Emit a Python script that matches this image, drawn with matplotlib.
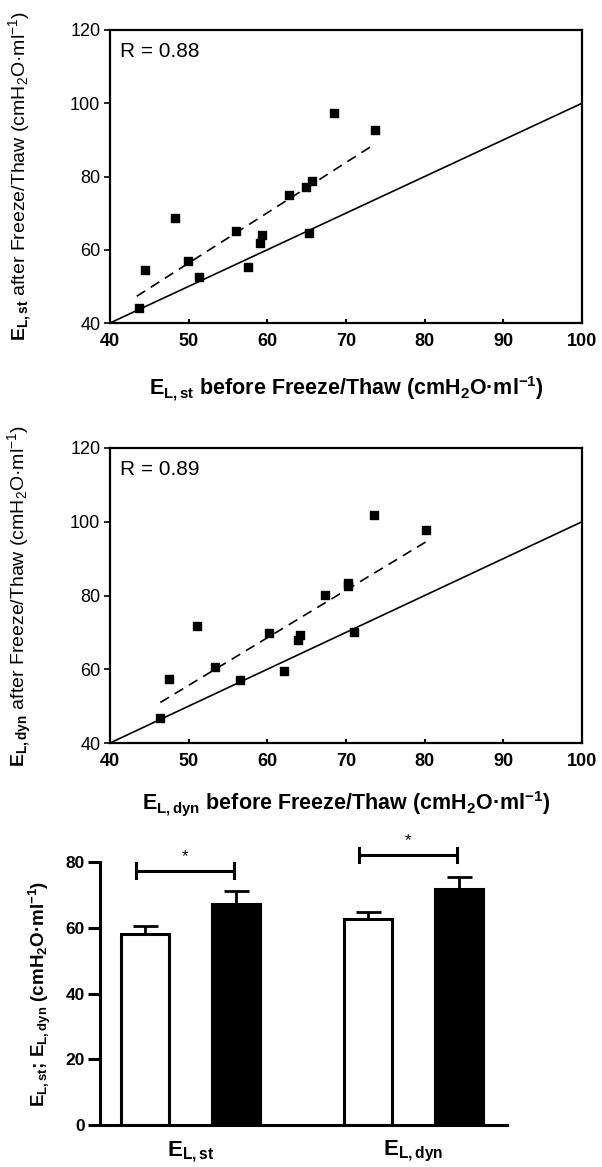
import numpy as np
import matplotlib
matplotlib.use("Agg")
import matplotlib.pyplot as plt

plt.rcParams['font.family'] = ['Liberation Sans', 'DejaVu Sans']
plt.rcParams['mathtext.fontset'] = 'custom'
plt.rcParams['mathtext.rm'] = 'Liberation Sans'
plt.rcParams['mathtext.bf'] = 'Liberation Sans:bold'
plt.rcParams['mathtext.it'] = 'Liberation Sans:italic'

# ---- data: static elastance ----
st_before = [43.7, 44.5, 48.2, 49.9, 51.3, 56.0, 57.6, 59.1, 59.3, 62.7, 64.9, 65.3, 65.7, 68.5, 73.7]
st_after = [44.1, 54.4, 68.6, 56.9, 52.5, 65.2, 55.3, 61.8, 64.1, 75.0, 77.1, 64.5, 78.9, 97.3, 92.7]
st_R = "R = 0.88"
st_fit_x = [43.4, 73.7]
st_fit_y = [47.3, 88.9]

# ---- data: dynamic elastance ----
dyn_before = [46.4, 47.5, 51.0, 53.3, 56.5, 60.2, 62.1, 63.9, 64.1, 67.3, 70.2, 70.2, 71.0, 73.6, 80.2]
dyn_after = [46.9, 57.3, 71.7, 60.6, 57.2, 69.7, 59.6, 67.8, 69.3, 80.2, 83.5, 82.7, 70.0, 101.8, 97.8]
dyn_R = "R = 0.89"
dyn_fit_x = [46.4, 80.2]
dyn_fit_y = [51.0, 94.6]

identity = [40, 100]
scatter_xticks = [40, 50, 60, 70, 80, 90, 100]
scatter_yticks = [40, 60, 80, 100, 120]

# ---- data: bars ----
bar_groups = [r"$\mathbf{E_{L,st}}$", r"$\mathbf{E_{L,dyn}}$"]
before_means = [58.1, 62.7]
before_err = [2.3, 2.2]
after_means = [67.3, 71.8]
after_err = [3.8, 3.6]
bar_yticks = [0, 20, 40, 60, 80]

fig = plt.figure(figsize=(6.02, 11.67), dpi=100)
W, H = 602, 1167

def ax_px(l, t, r, b):
    return fig.add_axes([l / W, 1 - b / H, (r - l) / W, (b - t) / H])

def scatter_panel(ax, xb, ya, fx, fy, rtxt, xlab, ylab):
    ax.plot(identity, identity, color='black', lw=1.2)
    ax.plot(fx, fy, color='black', lw=1.2, ls=(0, (6, 4)))
    ax.scatter(xb, ya, marker='s', s=32, color='black', zorder=3)
    ax.set_xlim(40, 100)
    ax.set_ylim(40, 120)
    ax.set_xticks(scatter_xticks)
    ax.set_yticks(scatter_yticks)
    for s in ax.spines.values():
        s.set_linewidth(1.6)
    ax.tick_params(axis='y', direction='out', length=4, width=1.2, labelsize=13, pad=3)
    ax.tick_params(axis='x', direction='in', length=3, width=1.5, labelsize=13, pad=7)
    for lab in ax.get_xticklabels():
        lab.set_fontweight('bold')
    ax.text(0.022, 0.96, rtxt, transform=ax.transAxes, ha='left', va='top', fontsize=15)
    ax.set_xlabel(xlab, fontsize=15.5, fontweight='bold')
    ax.set_ylabel(ylab, fontsize=14)
    ax.yaxis.set_label_coords(-0.16, 0.5)

ax1 = ax_px(110, 30, 582, 323)
scatter_panel(ax1, st_before, st_after, st_fit_x, st_fit_y, st_R,
              r"$\mathbf{E_{L,st}}$ before Freeze/Thaw (cmH$_\mathbf{2}$O·ml$^\mathbf{-1}$)",
              r"$\mathbf{E_{L,st}}$ after Freeze/Thaw (cmH$_2$O·ml$^{-1}$)")
ax1.xaxis.set_label_coords(0.5, -0.175)

ax2 = ax_px(110, 448, 582, 743)
scatter_panel(ax2, dyn_before, dyn_after, dyn_fit_x, dyn_fit_y, dyn_R,
              r"$\mathbf{E_{L,dyn}}$ before Freeze/Thaw (cmH$_\mathbf{2}$O·ml$^\mathbf{-1}$)",
              r"$\mathbf{E_{L,dyn}}$ after Freeze/Thaw (cmH$_2$O·ml$^{-1}$)")
ax2.xaxis.set_label_coords(0.5, -0.155)

# ---- bar panel ----
ax3 = ax_px(100, 862, 507, 1125)
centers = np.array([0.0, 2.45])
bw = 0.53
xb_before = centers
xb_after = centers + 1.0
ax3.bar(xb_before, before_means, width=bw, color='white', edgecolor='black', lw=2.2, zorder=2)
ax3.bar(xb_after, after_means, width=bw, color='black', edgecolor='black', lw=2.2, zorder=2)
ax3.errorbar(xb_before, before_means, yerr=[np.zeros(2), before_err], fmt='none',
             ecolor='black', elinewidth=2, capsize=9, capthick=2, zorder=1)
ax3.errorbar(xb_after, after_means, yerr=[np.zeros(2), after_err], fmt='none',
             ecolor='black', elinewidth=2, capsize=9, capthick=2, zorder=1)

# significance brackets
br_y = [77.4, 82.2]
for i in range(2):
    x0 = xb_before[i] - 0.1
    x1 = xb_after[i] - 0.02
    y = br_y[i]
    ax3.plot([x0, x1], [y, y], color='black', lw=2.2, clip_on=False)
    ax3.plot([x0, x0], [y - 2.2, y + 2.2], color='black', lw=2.2, clip_on=False)
    ax3.plot([x1, x1], [y - 2.2, y + 2.2], color='black', lw=2.2, clip_on=False)
    ax3.text((x0 + x1) / 2, y + 2.0, "*", ha='center', va='bottom', fontsize=12, clip_on=False)

ax3.set_xlim(-0.495, 3.98)
ax3.set_ylim(0, 80)
ax3.set_yticks(bar_yticks)
ax3.set_xticks((xb_before + xb_after) / 2)
ax3.set_xticklabels(bar_groups, fontsize=16)
ax3.spines['top'].set_visible(False)
ax3.spines['right'].set_visible(False)
ax3.spines['left'].set_linewidth(2.2)
ax3.spines['bottom'].set_linewidth(2.2)
ax3.tick_params(axis='y', direction='out', length=9, width=2.2, labelsize=12.5, pad=2)
ax3.tick_params(axis='x', length=0, pad=10)
for lab in ax3.get_yticklabels():
    lab.set_fontweight('bold')
ax3.set_ylabel(r"$\mathbf{E_{L,st}}$; $\mathbf{E_{L,dyn}}$ (cmH$_\mathbf{2}$O·ml$^\mathbf{-1}$)",
               fontsize=13.5, fontweight='bold')
ax3.yaxis.set_label_coords(-0.115, 0.5)

fig.savefig("out.png", dpi=100)
